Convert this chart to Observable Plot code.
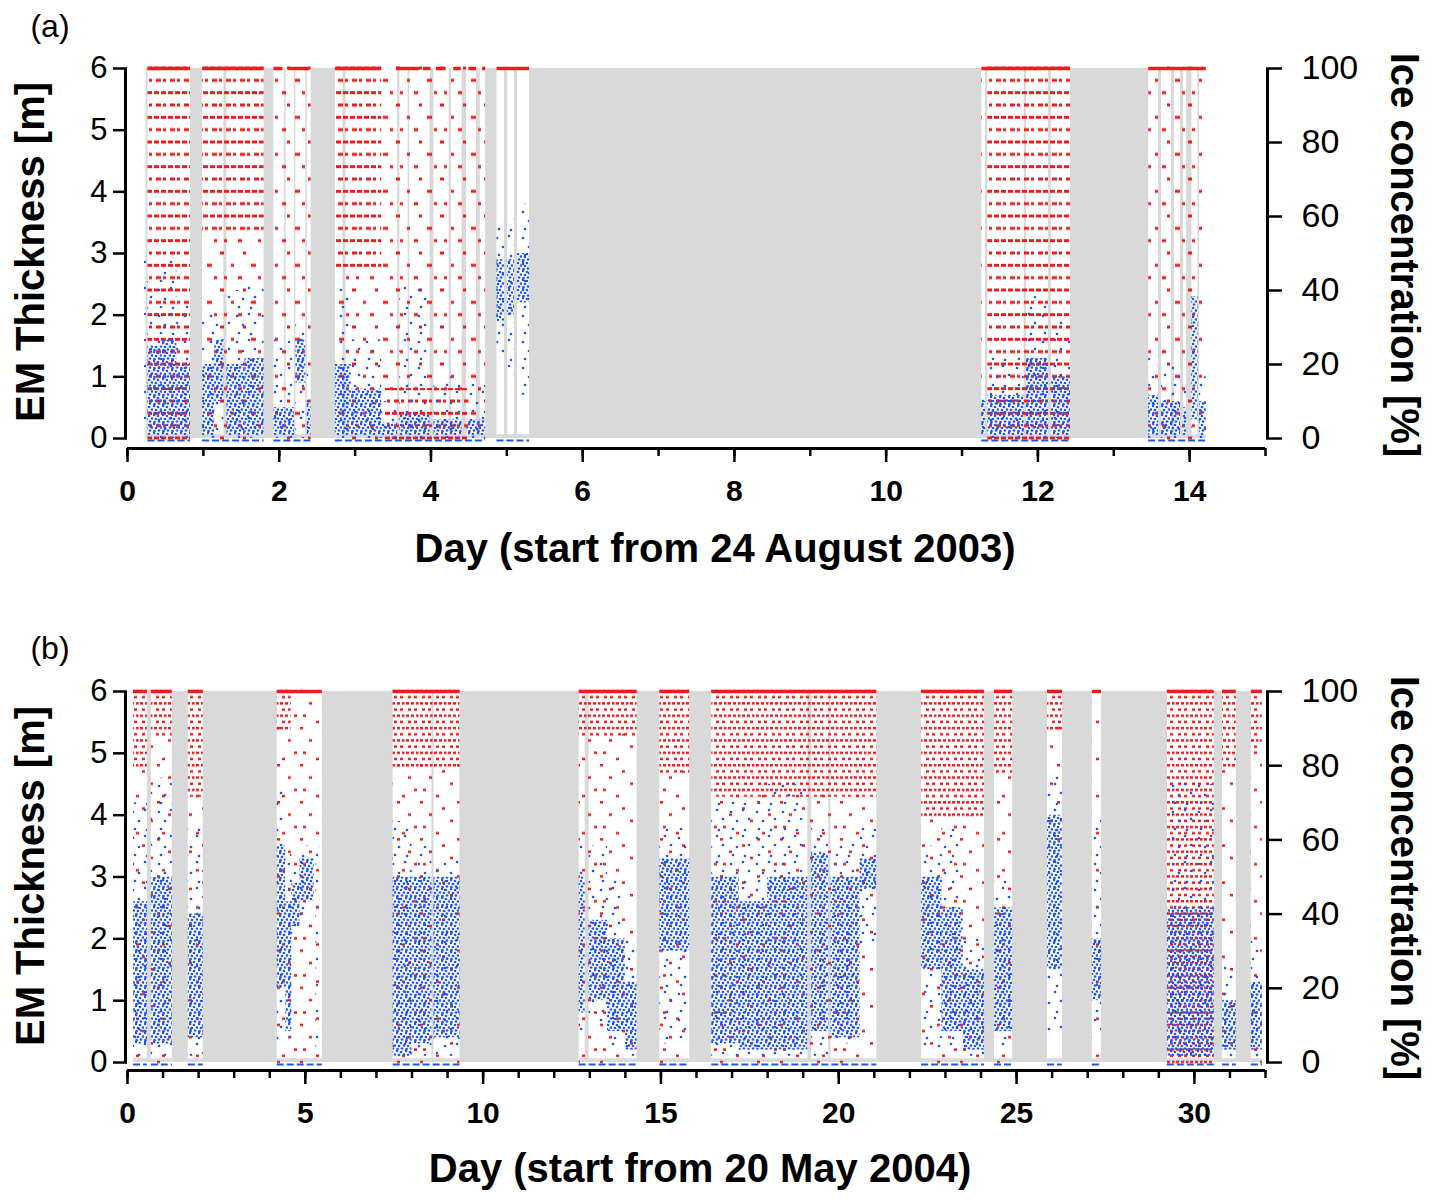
<!DOCTYPE html>
<html><head><meta charset="utf-8">
<script src="https://cdn.jsdelivr.net/npm/d3@7"></script>
<script src="https://cdn.jsdelivr.net/npm/@observablehq/plot@0.6"></script>
<style>
body{margin:0;background:#fff;}
#wrap{position:relative;width:1447px;height:1202px;font-family:"Liberation Sans",Arial,sans-serif;overflow:hidden;}
#wrap svg.plot{position:absolute;left:0;}
.lab{position:absolute;white-space:nowrap;color:#000;transform:translate(-50%,-50%);line-height:1;}
.t{font-weight:bold;font-size:40px;}
.p{font-size:32px;}
</style></head><body>
<svg width="0" height="0" style="position:absolute"><defs>
  <pattern id="aRedD" patternUnits="userSpaceOnUse" x="0" y="66.5" width="14" height="24.667">
    <rect x="0" y="0" width="5" height="3" fill="#ee1c1c"/><rect x="7" y="0" width="5" height="3" fill="#ee1c1c"/>
    <rect x="2" y="12.333" width="5" height="3" fill="#ee1c1c"/><rect x="9" y="12.333" width="3" height="3" fill="#ee1c1c"/>
  </pattern>
  <pattern id="aRedS" patternUnits="userSpaceOnUse" x="0" y="66.5" width="44" height="37">
    <rect x="0" y="0" width="4" height="3" fill="#ee1c1c"/><rect x="23" y="0" width="3" height="3" fill="#ee1c1c"/>
    <rect x="11" y="12.333" width="3" height="3" fill="#ee1c1c"/><rect x="31" y="12.333" width="5" height="3" fill="#ee1c1c"/>
    <rect x="4" y="24.667" width="3" height="3" fill="#ee1c1c"/><rect x="18" y="24.667" width="4" height="3" fill="#ee1c1c"/><rect x="38" y="24.667" width="3" height="3" fill="#ee1c1c"/>
  </pattern>
  <pattern id="bRedD" patternUnits="userSpaceOnUse" x="0" y="89.75" width="14" height="12.366">
    <rect x="0" y="0" width="3" height="2.5" fill="#ee1c1c"/><rect x="5" y="0" width="3" height="2.5" fill="#ee1c1c"/><rect x="10" y="0" width="2.5" height="2.5" fill="#ee1c1c"/>
    <rect x="2" y="6.183" width="3" height="2.5" fill="#ee1c1c"/><rect x="8" y="6.183" width="3" height="2.5" fill="#ee1c1c"/>
  </pattern>
  <pattern id="bRedS" patternUnits="userSpaceOnUse" x="0" y="89.75" width="60" height="37.098">
    <rect x="0" y="0" width="3" height="2.5" fill="#ee1c1c"/><rect x="37" y="0" width="3" height="2.5" fill="#ee1c1c"/>
    <rect x="22" y="6.183" width="3" height="2.5" fill="#ee1c1c"/>
    <rect x="9" y="12.366" width="3" height="2.5" fill="#ee1c1c"/><rect x="48" y="12.366" width="3" height="2.5" fill="#ee1c1c"/>
    <rect x="30" y="18.549" width="3" height="2.5" fill="#ee1c1c"/>
    <rect x="3" y="24.732" width="3" height="2.5" fill="#ee1c1c"/><rect x="54" y="24.732" width="3" height="2.5" fill="#ee1c1c"/>
    <rect x="16" y="30.915" width="3" height="2.5" fill="#ee1c1c"/><rect x="42" y="30.915" width="3" height="2.5" fill="#ee1c1c"/>
  </pattern>
  <pattern id="blueD" patternUnits="userSpaceOnUse" x="0" y="0" width="9" height="9">
    <circle cx="1" cy="1" r="1.35" fill="#1e55ee"/><circle cx="5" cy="2" r="1.35" fill="#1e55ee"/>
    <circle cx="8" cy="4.5" r="1.35" fill="#1e55ee"/><circle cx="3" cy="5" r="1.35" fill="#1e55ee"/>
    <circle cx="6" cy="7.5" r="1.35" fill="#1e55ee"/><circle cx="1.5" cy="8.2" r="1.35" fill="#1e55ee"/>
  </pattern>
  <pattern id="blueS" patternUnits="userSpaceOnUse" x="0" y="0" width="26" height="26">
    <circle cx="3" cy="4" r="1.3" fill="#1e55ee"/><circle cx="15" cy="2" r="1.3" fill="#1e55ee"/><circle cx="21" cy="11" r="1.3" fill="#1e55ee"/>
    <circle cx="9" cy="13" r="1.3" fill="#1e55ee"/><circle cx="5" cy="21" r="1.3" fill="#1e55ee"/><circle cx="17" cy="22" r="1.3" fill="#1e55ee"/>
  </pattern>
</defs></svg>
<div id="wrap"></div>
<script>
// ---------- DATA (days, metres, percent) ----------
const xMajorA = [0, 2, 4, 6, 8, 10, 12, 14];
const xMinorA = [0, 1, 2, 3, 4, 5, 6, 7, 8, 9, 10, 11, 12, 13, 14, 15];
const xMajorB = [0, 5, 10, 15, 20, 25, 30];
const xMinorB = [0,1,2,3,4,5,6,7,8,9,10,11,12,13,14,15,16,17,18,19,20,21,22,23,24,25,26,27,28,29,30,31,32];
const thickTicks = [0, 1, 2, 3, 4, 5, 6];
const concTicks = [0, 20, 40, 60, 80, 100];

// gray = no-data intervals [start, end]
const grayA = [[0.245,0.27],[0.83,0.99],[1.27,1.31],[1.80,1.93],[2.07,2.09],[2.20,2.22],[2.35,2.37],[2.42,2.74],[2.84,2.88],
  [3.56,3.59],[3.70,3.72],[3.99,4.04],[4.24,4.27],[4.41,4.47],[4.60,4.65],[4.72,4.87],[4.97,5.01],[5.10,5.14],[5.30,11.26],
  [11.31,11.34],[11.82,11.85],[12.14,12.18],[12.43,13.46],[13.59,13.63],[13.76,13.80],[13.88,13.92],[13.96,14.03],[14.11,14.13]];
const grayB = [[0.56,0.67],[1.26,1.71],[2.13,4.21],[5.48,7.47],[8.56,8.62],[9.35,12.70],[12.87,12.98],[14.33,14.97],[15.81,16.43],
  [19.13,19.24],[19.72,19.78],[21.07,22.33],[24.10,24.38],[24.89,25.87],[26.29,27.13],[27.39,29.24],[30.56,30.79],[31.18,31.60]];

// data coverage segments [start, end]
const coverA = [[0.27,0.83],[0.99,1.80],[1.93,2.42],[2.74,4.72],[4.87,5.30],[11.26,12.43],[13.46,14.22]];
const coverB = [[0.17,0.56],[0.67,1.26],[1.71,2.13],[4.21,5.48],[7.47,9.35],[12.70,14.33],[14.97,15.81],[16.43,21.07],
  [22.33,24.10],[24.38,24.89],[25.87,26.29],[27.13,27.39],[29.24,30.56],[30.79,31.18],[31.60,31.91]];

// 100 % ice concentration observations [start, end]
const fullIceA = [[0.27,0.83],[0.99,1.80],[1.93,2.05],[2.12,2.40],[2.74,3.35],[3.55,3.85],[3.90,4.00],[4.07,4.20],[4.30,4.40],
  [4.50,4.60],[4.68,4.72],[4.87,5.30],[11.26,12.43],[13.46,14.22]];
const fullIceB = coverB;

// ice concentration observations: [start, end, lowest %, highest %] (dense / sparse occurrence)
const concDenseA = [[0.27,0.83,0,100],[0.99,1.80,55,100],[2.74,3.35,45,100],[3.40,4.50,0,13],[11.34,12.43,0,100]];
const concSparseA = [[0.99,1.80,0,55],[1.93,2.42,0,100],[2.74,3.35,0,45],[3.35,4.72,13,100],[4.50,4.72,0,13],
  [11.26,11.31,0,100],[13.46,14.22,0,100]];
const concDenseB = [[0.17,0.56,80,100],[0.67,1.26,88,100],[1.71,2.13,72,100],[4.21,4.60,90,100],[7.47,9.35,80,100],
  [12.70,14.33,88,100],[14.97,15.81,78,100],[16.43,21.07,72,100],[22.33,24.10,66,100],[24.38,24.89,78,100],
  [25.87,26.29,90,100],[29.24,30.56,0,100],[30.79,31.18,80,100],[31.60,31.91,85,100]];
const concSparseB = [[0.17,0.56,0,80],[0.67,1.26,0,88],[1.71,2.13,0,72],[4.21,4.60,0,90],[4.60,5.48,0,100],[7.47,9.35,0,80],
  [12.70,14.33,0,88],[14.97,15.81,0,78],[16.43,21.07,0,72],[22.33,24.10,0,66],[24.38,24.89,0,78],[25.87,26.29,60,90],
  [27.13,27.39,0,100],[30.79,31.18,0,80],[31.60,31.91,0,85]];

// EM thickness: [start, end, min, core low, core high, max] (m)
const thickA = [[0.22,0.25,0,0,0,3.0],[0.27,0.45,0,0.05,1.5,2.6],[0.45,0.65,0,0.05,1.6,2.9],[0.65,0.83,0,0.05,1.2,2.2],
  [0.99,1.15,0,0.05,1.2,2.1],[1.15,1.27,0,0.6,1.6,2.0],[1.31,1.55,0,0.05,1.2,2.4],[1.55,1.80,0,0.05,1.3,2.5],
  [1.93,2.20,0,0.05,0.5,1.6],[2.22,2.35,0,0.9,1.6,2.0],[2.37,2.42,0,0.05,0.6,1.4],[2.74,2.95,0,0.05,1.2,2.5],
  [2.95,3.35,0,0.05,0.8,1.6],[3.35,3.56,0,0.05,0.25,0.6],[3.59,3.99,0,0.05,0.4,2.5],[4.04,4.41,0,0.05,0.3,1.0],
  [4.47,4.72,0,0.05,0.3,0.9],[4.87,4.97,1.3,1.9,2.9,3.5],[5.01,5.10,1.0,2.0,2.9,3.6],[5.14,5.30,0.7,2.2,3.0,3.8],
  [11.26,11.31,0,0.05,0.6,1.0],[11.34,11.82,0,0.05,0.7,1.4],[11.85,12.14,0,0.05,1.3,2.3],[12.18,12.43,0,0.05,1.0,1.9],
  [13.46,13.59,0,0.05,0.7,1.3],[13.63,13.88,0,0.05,0.6,1.2],[13.92,13.96,0,0.05,0.5,1.0],[14.03,14.11,0,0.3,2.3,2.6],
  [14.13,14.22,0,0.05,0.6,1.0]];
const thickB = [[0.17,0.56,0.1,0.3,2.6,4.2],[0.67,1.26,0.1,0.3,3.0,4.6],[1.71,2.13,0.1,0.4,2.4,3.8],[4.21,4.45,0.3,1.2,3.5,4.4],
  [4.45,4.62,0.3,0.5,2.6,3.5],[4.62,4.85,1.9,2.2,2.9,3.2],[4.85,5.25,2.3,2.6,3.3,3.5],[5.30,5.42,0.1,0.1,0.1,3.5],
  [7.47,8.00,0.0,0.1,3.0,3.9],[8.00,8.56,0.1,0.3,3.0,3.5],[8.62,9.35,0.1,0.4,3.0,3.3],[12.70,12.87,0.4,0.8,3.0,3.6],
  [12.98,13.50,0.6,1.0,2.3,3.5],[13.50,14.00,0.2,0.5,2.0,3.0],[14.00,14.33,0.1,0.2,1.3,2.0],[14.97,15.81,0.3,1.8,3.3,3.8],
  [16.43,17.20,0.1,0.3,3.0,4.3],[17.20,18.00,0.1,0.2,2.6,4.3],[18.00,19.13,0.1,0.2,3.0,4.5],[19.24,19.72,0.1,0.5,3.4,3.8],
  [19.78,20.60,0.3,0.4,3.0,3.6],[20.60,21.07,1.9,2.8,3.3,3.8],[22.33,22.90,0.2,1.5,3.0,3.5],[22.90,23.50,0.2,0.5,2.5,3.8],
  [23.50,24.10,0.1,0.2,1.5,2.0],[24.38,24.89,0.2,0.5,2.5,3.0],[25.87,26.29,0.5,1.5,4.0,4.7],[27.13,27.39,0.5,1.0,2.0,4.0],
  [29.24,30.56,0.0,0.1,2.5,4.5],[30.79,31.18,0.0,0.2,1.0,1.6],[31.60,31.91,0.0,0.2,1.3,2.0]];

// ---------- DRAWING ----------
const BLUE = "#1e55ee", RED = "#ee1c1c", GRAY = "#d9d9d9";
const M_PER_PCT = 6 / 100; // right axis: 100 % spans the 6 m of the left axis

function panel(o) {
  const x1 = d => d[0], x2 = d => d[1];
  const svg = Plot.plot({
    width: 1447, height: o.height,
    marginTop: o.mt, marginBottom: o.mb, marginLeft: 127, marginRight: 182,
    x: {domain: o.xDomain},
    y: {domain: [o.yMin, 6]},
    style: {fontFamily: "'Liberation Sans', Arial, sans-serif", color: "black", background: "transparent", overflow: "visible"},
    marks: [
      Plot.rect(o.gray, {x1, x2, y1: 0, y2: 6, fill: GRAY}),
      Plot.rect(o.cover, {x1, x2, y1: 0, y2: 0.06, fill: GRAY}),
      Plot.rect(o.concS, {x1, x2, y1: d => d[2] * M_PER_PCT - 0.03, y2: d => d[3] * M_PER_PCT + 0.03, fill: `url(#${o.id}RedS)`}),
      Plot.rect(o.concD, {x1, x2, y1: d => d[2] * M_PER_PCT - 0.03, y2: d => d[3] * M_PER_PCT + 0.03, fill: `url(#${o.id}RedD)`}),
      Plot.ruleY(o.full, {x1, x2, y: 6, stroke: RED, strokeWidth: 3.5}),
      Plot.rect(o.thick, {x1, x2, y1: d => d[2], y2: d => d[5], fill: "url(#blueS)"}),
      Plot.rect(o.thick, {x1, x2, y1: d => d[3], y2: d => d[4], fill: "url(#blueD)"}),
      Plot.ruleY(o.cover, {x1, x2, y: 0, dy: 2, stroke: BLUE, strokeWidth: 2, strokeDasharray: "7,3"}),
      // axes
      Plot.ruleX([o.xDomain[0]], {y1: 0, y2: 6, dx: -2, stroke: "black", strokeWidth: 3}),
      Plot.ruleX([o.xDomain[1]], {y1: 0, y2: 6, dx: 2, stroke: "black", strokeWidth: 3}),
      Plot.ruleY([o.yMin], {stroke: "black", strokeWidth: 3}),
      Plot.axisY(thickTicks, {anchor: "left", tickSize: 14, tickPadding: 6, fontSize: 31, strokeWidth: 2.5,
        tickFormat: d => String(d), label: null}),
      Plot.axisY(concTicks.map(c => c * M_PER_PCT), {anchor: "right", tickSize: 16, tickPadding: 20, fontSize: 34, strokeWidth: 2.5,
        tickFormat: d => String(Math.round(d / M_PER_PCT)), label: null}),
      Plot.axisX(o.minor, {anchor: "bottom", tickSize: 8, strokeWidth: 2.5, tickFormat: () => "", label: null}),
      Plot.axisX(o.major, {anchor: "bottom", tickSize: 14, tickPadding: 17, fontSize: 30, fontWeight: "bold", strokeWidth: 2.5, label: null})
    ]
  });
  svg.classList.add("plot");
  svg.style.top = o.top + "px";
  return svg;
}

const wrap = document.getElementById("wrap");
wrap.appendChild(panel({id: "a", top: 0, height: 600, mt: 68, mb: 152, yMin: -0.162, xDomain: [0, 15],
  major: xMajorA, minor: xMinorA, gray: grayA, cover: coverA, full: fullIceA, concD: concDenseA, concS: concSparseA, thick: thickA}));
wrap.appendChild(panel({id: "b", top: 600, height: 602, mt: 91, mb: 132, yMin: -0.129, xDomain: [0, 32],
  major: xMajorB, minor: xMinorB, gray: grayB, cover: coverB, full: fullIceB, concD: concDenseB, concS: concSparseB, thick: thickB}));

function label(text, cls, x, y, rot) {
  const d = document.createElement("div");
  d.className = "lab " + cls;
  d.textContent = text;
  d.style.left = x + "px"; d.style.top = y + "px";
  if (rot) d.style.transform = `translate(-50%,-50%) rotate(${rot}deg)`;
  wrap.appendChild(d);
}
label("(a)", "p", 50, 26);
label("EM Thickness [m]", "t", 30, 252, -90);
label("Ice concentration [%]", "t", 1405, 255, 90);
label("Day (start from 24 August 2003)", "t", 715, 548);
label("(b)", "p", 50, 648);
label("EM Thickness [m]", "t", 30, 876, -90);
label("Ice concentration [%]", "t", 1405, 878, 90);
label("Day (start from 20 May 2004)", "t", 700, 1168);
</script></body></html>
